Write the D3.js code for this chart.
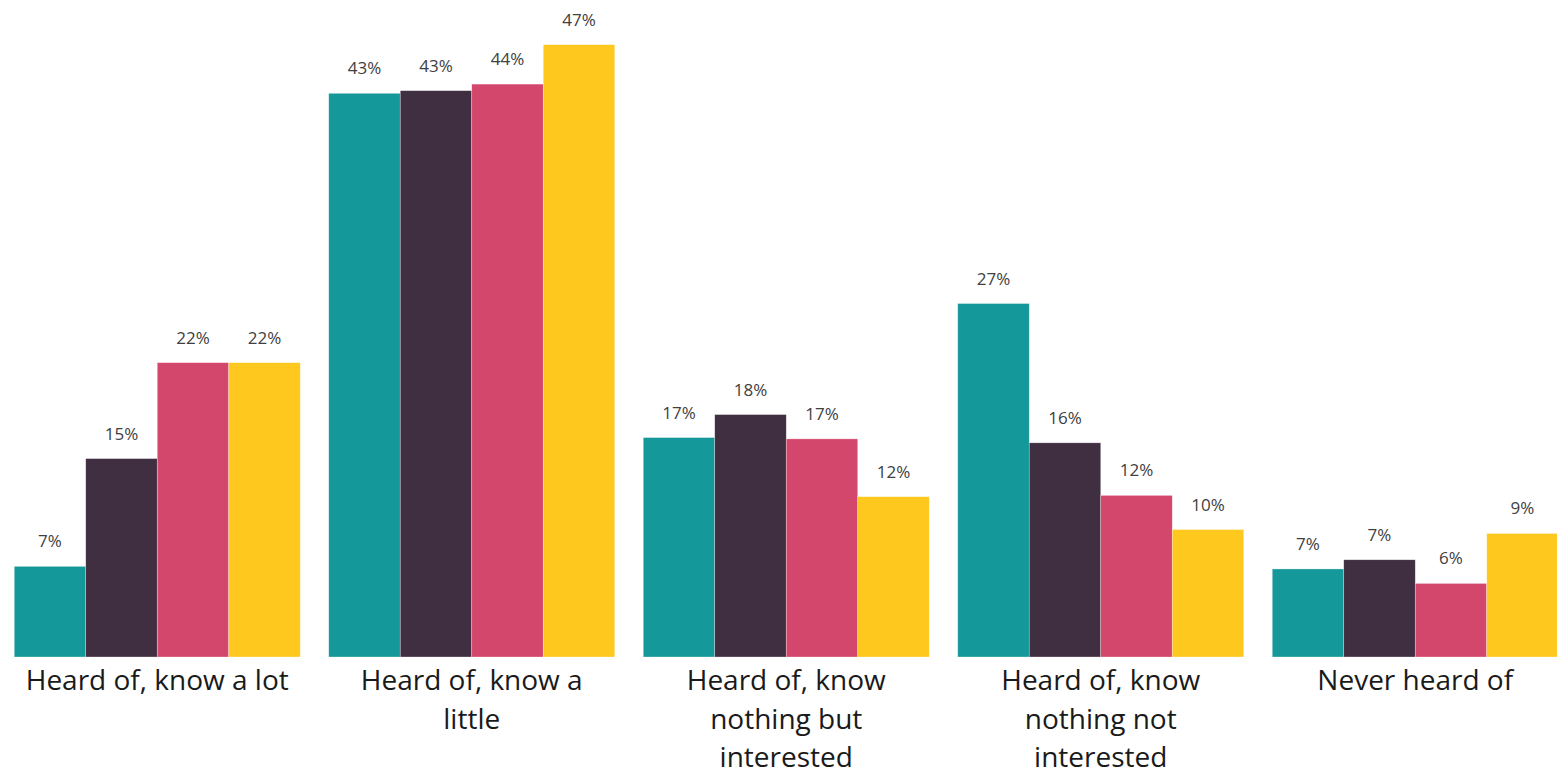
<!DOCTYPE html>
<html>
<head>
<meta charset="utf-8">
<script src="https://cdn.jsdelivr.net/npm/d3@7"></script>
<style>
  body { margin: 0; background: #fff; }
  svg { display: block; }
</style>
</head>
<body>
<svg id="chart" width="1557" height="777"></svg>
<script>
const categories = [
    "Heard of, know a lot",
    "Heard of, know a little",
    "Heard of, know nothing but interested",
    "Heard of, know nothing not interested",
    "Never heard of"
];
const seriesNames = ["s1", "s2", "s3", "s4"];
const s1 = [6.9, 42.9, 16.7, 26.9, 6.7];
const s2 = [15.1, 43.1, 18.45, 16.3, 7.4];
const s3 = [22.4, 43.6, 16.6, 12.3, 5.6];
const s4 = [22.4, 46.6, 12.2, 9.7, 9.4];
const colors = ["#15989a", "#402f41", "#d4476c", "#fec81e"];

const seriesVals = [s1, s2, s3, s4];
const data = categories.map((c, i) => ({
    cat: c,
    vals: seriesNames.map((s, j) => ({ key: s, value: seriesVals[j][i], color: colors[j] }))
}));

const svg = d3.select("#chart");
const baseline = 657;

const x0 = d3.scaleBand()
    .domain(categories)
    .range([0, 1572.5])
    .paddingInner(0.0906)
    .paddingOuter(0.0453);

const x1 = d3.scaleBand()
    .domain(seriesNames)
    .range([0, x0.bandwidth()]);

const y = d3.scaleLinear()
    .domain([0, 50])
    .range([baseline, 0]);

const groups = svg.selectAll(".group")
    .data(data)
    .enter()
    .append("g")
    .attr("class", "group")
    .attr("transform", d => `translate(${x0(d.cat)},0)`);

groups.selectAll("rect")
    .data(d => d.vals)
    .enter()
    .append("rect")
    .attr("x", d => x1(d.key))
    .attr("y", d => y(d.value))
    .attr("width", x1.bandwidth())
    .attr("height", d => baseline - y(d.value))
    .attr("fill", d => d.color)
    .attr("stroke", "#fff")
    .attr("stroke-opacity", 0.5)
    .attr("stroke-width", 0.6);

groups.selectAll("text.val")
    .data(d => d.vals)
    .enter()
    .append("text")
    .attr("class", "val")
    .attr("x", d => x1(d.key) + x1.bandwidth() / 2)
    .attr("y", d => y(d.value) - 19)
    .attr("text-anchor", "middle")
    .attr("font-family", "'Open Sans', sans-serif")
    .attr("font-size", 17)
    .attr("fill", "#404040")
    .text(d => Math.round(d.value) + "%");

// category labels, wrapped to the group width
const labels = groups.append("text")
    .attr("class", "cat")
    .attr("x", x0.bandwidth() / 2)
    .attr("y", 690)
    .attr("text-anchor", "middle")
    .attr("font-family", "'Open Sans', sans-serif")
    .attr("font-size", 28)
    .attr("fill", "#1a1a1a");

labels.each(function(d) {
    const text = d3.select(this);
    const words = d.cat.split(" ");
    const maxW = 270;
    let line = [];
    let tspan = text.append("tspan").attr("x", x0.bandwidth() / 2).attr("dy", 0);
    words.forEach(w => {
        line.push(w);
        tspan.text(line.join(" "));
        if (tspan.node().getComputedTextLength() > maxW && line.length > 1) {
            line.pop();
            tspan.text(line.join(" "));
            line = [w];
            tspan = text.append("tspan")
                .attr("x", x0.bandwidth() / 2)
                .attr("dy", 38.5)
                .text(w);
        }
    });
});
</script>
</body>
</html>
